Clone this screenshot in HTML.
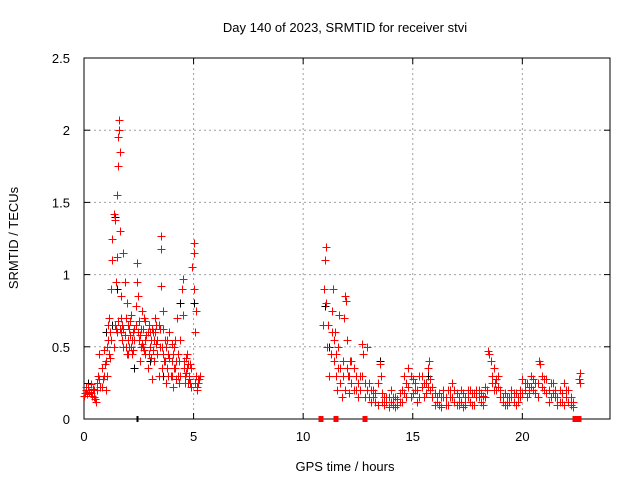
<!DOCTYPE html>
<html><head><meta charset="utf-8"><style>
body{margin:0;background:#fff}
svg{display:block;font-family:"Liberation Sans",sans-serif;font-size:13px}
</style></head><body>
<svg id="c" width="640" height="480">
<text x="345" y="32" text-anchor="middle">Day 140 of 2023, SRMTID for receiver stvi</text>
<text x="345" y="471" text-anchor="middle">GPS time / hours</text>
<text transform="translate(18,238) rotate(-90)" text-anchor="middle">SRMTID / TECUs</text>
<g id="grid"></g>
<g id="axes"></g>
<g id="black"></g>
<g id="red"></g>
</svg>
<script>
const xTicks=[0,5,10,15,20];
const yTicks=[0,0.5,1,1.5,2,2.5];
const yTickLabels=["0","0.5","1","1.5","2","2.5"];
const redT=[0,.05,.1,.15,.2,.25,.3,.35,.4,.45,.5,.55,.6,.65,.7,.75,.8,.85,.9,.95,1,1.05,1.1,1.1,1.15,1.2,1.25,1.3,1.3,1.35,1.4,1.45,1.45,1.5,1.5,1.55,1.55,1.6,1.6,1.62,1.65,1.7,1.7,1.75,1.8,1.85,1.9,1.95,2,2.05,2.1,2.15,2.2,2.25,2.3,2.35,2.4,2.4,2.45,2.5,2.55,2.6,2.65,2.7,2.75,2.8,2.85,2.9,2.95,3,3.05,3.1,3.15,3.2,3.25,3.3,3.35,3.4,3.45,3.5,3.5,3.52,3.55,3.6,3.65,3.7,3.75,3.8,3.85,3.9,3.95,4,4.05,4.1,4.15,4.2,4.25,4.3,4.35,4.4,4.45,4.5,4.5,4.55,4.6,4.65,4.7,4.75,4.8,4.85,4.9,4.95,5,5,5.02,5.05,5.1,5.1,5.15,5.2,5.25,5.3,1.9,2,2.6,3,3.3,3.6,4,2.2,2.8,1.8,
10.9,10.95,11,11.02,11.05,11.1,11.15,11.2,11.25,11.3,11.35,11.4,11.45,11.5,11.55,11.6,11.65,11.7,11.75,11.8,11.85,11.9,11.95,12,12.05,12.1,12.15,12.2,12.3,12.4,12.5,12.6,12.7,12.75,12.8,12.9,13,13.1,13.2,13.3,13.4,13.5,13.55,13.6,13.7,13.8,13.9,14,14.1,14.2,14.3,14.4,14.5,14.6,14.7,14.8,14.9,15,15.1,15.2,15.3,15.4,15.5,15.6,15.7,15.75,15.8,15.9,16,16.1,16.2,16.3,16.4,16.5,16.6,16.7,16.8,16.9,17,17.1,17.2,17.3,17.4,17.5,17.6,17.7,17.8,17.9,18,18.1,18.2,18.3,18.4,18.45,18.5,18.55,18.6,18.7,18.75,18.8,18.9,19,19.1,19.2,19.3,19.4,19.5,19.6,19.7,19.8,19.9,20,20.1,20.2,20.3,20.4,20.5,20.6,20.7,20.75,20.8,20.9,21,21.1,21.2,21.3,21.4,21.5,21.6,21.7,21.8,21.9,22,22.1,22.2,22.3,22.6,22.62,22.65];
const redV=[.16,.18,.2,.17,.22,.19,.24,.16,.21,.2,.14,.12,.25,.3,.45,.22,.35,.28,.48,.38,.2,.3,.55,.65,.7,.42,.9,1.1,1.25,1.42,1.38,.62,.95,1.12,1.55,1.75,1.95,2.07,2,1.85,1.3,.85,.6,.55,1.15,.95,.7,.8,.65,.5,.58,.72,.45,.6,.62,.78,1.08,.95,.85,.55,.4,.62,.75,.5,.7,.45,.58,.35,.65,.5,.42,.28,.6,.55,.7,.52,.45,.3,.62,1.27,1.18,.92,.5,.75,.4,.55,.25,.35,.45,.6,.3,.4,.22,.5,.35,.28,.7,.45,.25,.55,.9,.97,.72,.4,.3,.42,.35,.25,.3,.38,.22,1.05,1.22,1.15,.9,.6,.75,.3,.2,.25,.28,.3,.5,.45,.5,.6,.65,.62,.52,.55,.68,.62,
.65,.9,1.1,1.19,.8,.5,.65,.3,.45,.75,.9,.4,.6,.3,.2,.5,.72,.35,.15,.4,.7,.85,.82,.55,.3,.18,.4,.25,.35,.2,.15,.3,.52,.45,.25,.5,.15,.12,.2,.18,.25,.38,.3,.12,.1,.15,.08,.12,.1,.15,.1,.12,.2,.3,.25,.35,.15,.28,.2,.12,.3,.22,.15,.25,.35,.4,.2,.15,.1,.12,.18,.08,.15,.1,.2,.15,.25,.12,.18,.1,.2,.08,.15,.2,.12,.18,.1,.15,.2,.12,.16,.22,.2,.47,.45,.4,.3,.35,.25,.2,.3,.15,.12,.18,.1,.15,.2,.12,.18,.15,.2,.28,.25,.15,.22,.3,.2,.25,.15,.4,.38,.3,.2,.28,.12,.25,.18,.15,.1,.2,.12,.25,.15,.2,.1,.08,.28,.32,.25];
const redT2=[.1,.3,.45,.6,.7,.8,.9,1,1.05,1.15,1.2,1.25,1.35,1.4,1.5,1.55,1.65,1.7,1.75,1.8,1.85,1.95,2,2.05,2.1,2.15,2.25,2.3,2.35,2.45,2.5,2.55,2.65,2.7,2.75,2.8,2.9,2.95,3.05,3.1,3.15,3.2,3.25,3.35,3.4,3.45,3.55,3.6,3.7,3.75,3.8,3.85,3.9,4,4.05,4.1,4.15,4.2,4.3,4.35,4.4,4.55,4.6,4.65,4.7,4.75,4.8,4.85,4.9,5.05,5.15,5.2,
11.3,11.4,11.5,11.6,11.7,11.8,11.9,12,12.1,12.2,12.3,12.4,12.5,12.6,12.7,12.8,12.9,13,13.1,13.2,13.3,13.4,13.6,13.7,13.8,13.9,14,14.1,14.2,14.3,14.4,14.5,14.6,14.7,14.8,14.9,15,15.1,15.2,15.3,15.4,15.5,15.6,15.7,15.8,15.9,16,16.1,16.2,16.3,16.4,16.5,16.6,16.7,16.8,16.9,17,17.1,17.2,17.3,17.4,17.5,17.6,17.7,17.8,17.9,18,18.1,18.2,18.3,18.6,18.7,18.8,18.9,19,19.1,19.2,19.3,19.4,19.5,19.6,19.7,19.8,19.9,20,20.1,20.2,20.3,20.4,20.5,20.6,20.7,20.9,21,21.1,21.2,21.3,21.4,21.5,21.6,21.7,21.8,21.9,22,22.1,22.2,22.3];
const redV2=[.22,.18,.15,.2,.28,.22,.3,.4,.5,.45,.6,.55,.5,.65,.6,.68,.62,.7,.65,.5,.58,.45,.55,.62,.68,.5,.48,.55,.65,.6,.68,.58,.52,.62,.48,.55,.6,.45,.55,.62,.48,.4,.6,.55,.65,.5,.35,.45,.4,.5,.55,.3,.42,.3,.45,.35,.55,.4,.3,.4,.3,.35,.25,.32,.45,.38,.28,.25,.35,.25,.22,.28,
.6,.55,.45,.35,.25,.3,.2,.35,.3,.4,.2,.3,.25,.2,.3,.15,.2,.25,.2,.15,.12,.1,.18,.15,.12,.15,.2,.15,.08,.14,.18,.12,.18,.15,.22,.3,.18,.25,.2,.15,.3,.25,.18,.22,.28,.22,.18,.15,.1,.15,.2,.15,.1,.2,.15,.2,.1,.15,.12,.18,.1,.15,.2,.1,.18,.2,.15,.18,.1,.15,.25,.2,.28,.22,.2,.15,.1,.15,.12,.15,.18,.1,.12,.15,.18,.2,.25,.18,.22,.28,.18,.25,.22,.28,.18,.2,.15,.25,.2,.15,.12,.18,.1,.2,.12,.15,.12];
const zeroT=[10.8,11.5,12.8,22.4,22.6];
const zeroV=[0,0,0,0,0];
const blackT=[.2,1,1.3,1.4,1.5,2.3,3,3.6,4.4,5,11,11.2,13.5,15.7,18.5];
const blackV=[.25,.6,.65,1.4,.9,.35,.4,.3,.8,.8,.78,.5,.4,.3,.45];
const blackZeroT=[2.4,2.46];
const blackZeroV=[0,0];
const X0=84,X1=610,Y0=419,Y1=58;
const sx=t=>X0+(X1-X0)*t/24, sy=v=>Y0-(Y0-Y1)*v/2.5;
const NS="http://www.w3.org/2000/svg";
function mk(tag,attrs,parent){const e=document.createElementNS(NS,tag);for(const k in attrs)e.setAttribute(k,attrs[k]);parent.appendChild(e);return e;}
const grid=document.getElementById('grid'),axes=document.getElementById('axes');
xTicks.forEach((t,i)=>{
  if(t>0){const g=mk('line',{x1:sx(t),x2:sx(t),y1:Y1,y2:Y0,stroke:'#a0a0a0','stroke-dasharray':'2,3'},grid);
  
  }
  mk('line',{x1:sx(t),x2:sx(t),y1:Y0,y2:Y0-6,stroke:'#000'},axes);
  mk('line',{x1:sx(t),x2:sx(t),y1:Y1,y2:Y1+6,stroke:'#000'},axes);
  const l=mk('text',{x:sx(t),y:Y0+22,'text-anchor':'middle'},axes);l.textContent=String(t);
  
  
});
yTicks.forEach((v,i)=>{
  if(v>0&&v<2.5){const g=mk('line',{x1:X0,x2:X1,y1:sy(v),y2:sy(v),stroke:'#a0a0a0','stroke-dasharray':'2,3'},grid);
  
  }
  mk('line',{x1:X0,x2:X0+6,y1:sy(v),y2:sy(v),stroke:'#000'},axes);
  mk('line',{x1:X1,x2:X1-6,y1:sy(v),y2:sy(v),stroke:'#000'},axes);
  const l=mk('text',{x:X0-14,y:sy(v)+5,'text-anchor':'end'},axes);l.textContent=yTickLabels[i];
  
  
});
mk('rect',{x:X0,y:Y1,width:X1-X0,height:Y0-Y1,fill:'none',stroke:'#000'},axes);
function plot(T,V,col,gid,name){
  let d='';
  for(let i=0;i<T.length;i++){const x=Math.round(sx(T[i]))+.5,y=Math.round(sy(V[i]))+.5;d+=`M${x-4},${y}h8M${x},${y-4}v8`;}
  const p=mk('path',{d:d,stroke:col,'stroke-width':1,fill:'none'},document.getElementById(gid));
  
  
}
function plotZero(T,V,col,gid,name,w){
  let d='';
  for(let i=0;i<T.length;i++){const x=Math.round(sx(T[i])),y=Math.round(sy(V[i]));d+=`M${x-w/2},${y-3}h${w}v6h${-w}z`;}
  const p=mk('path',{d:d,fill:col},document.getElementById(gid));
  
  
}
plot(blackT,blackV,'#000','black','black-points');
plotZero(blackZeroT,blackZeroV,'#000','black','black-zero-points',1);
plot(redT,redV,'#ff0000','red','red-points');
plot(redT2,redV2,'#ff0000','red','red-points-dense');
plotZero(zeroT,zeroV,'#ff0000','red','red-zero-points',5);
</script>
</body></html>
